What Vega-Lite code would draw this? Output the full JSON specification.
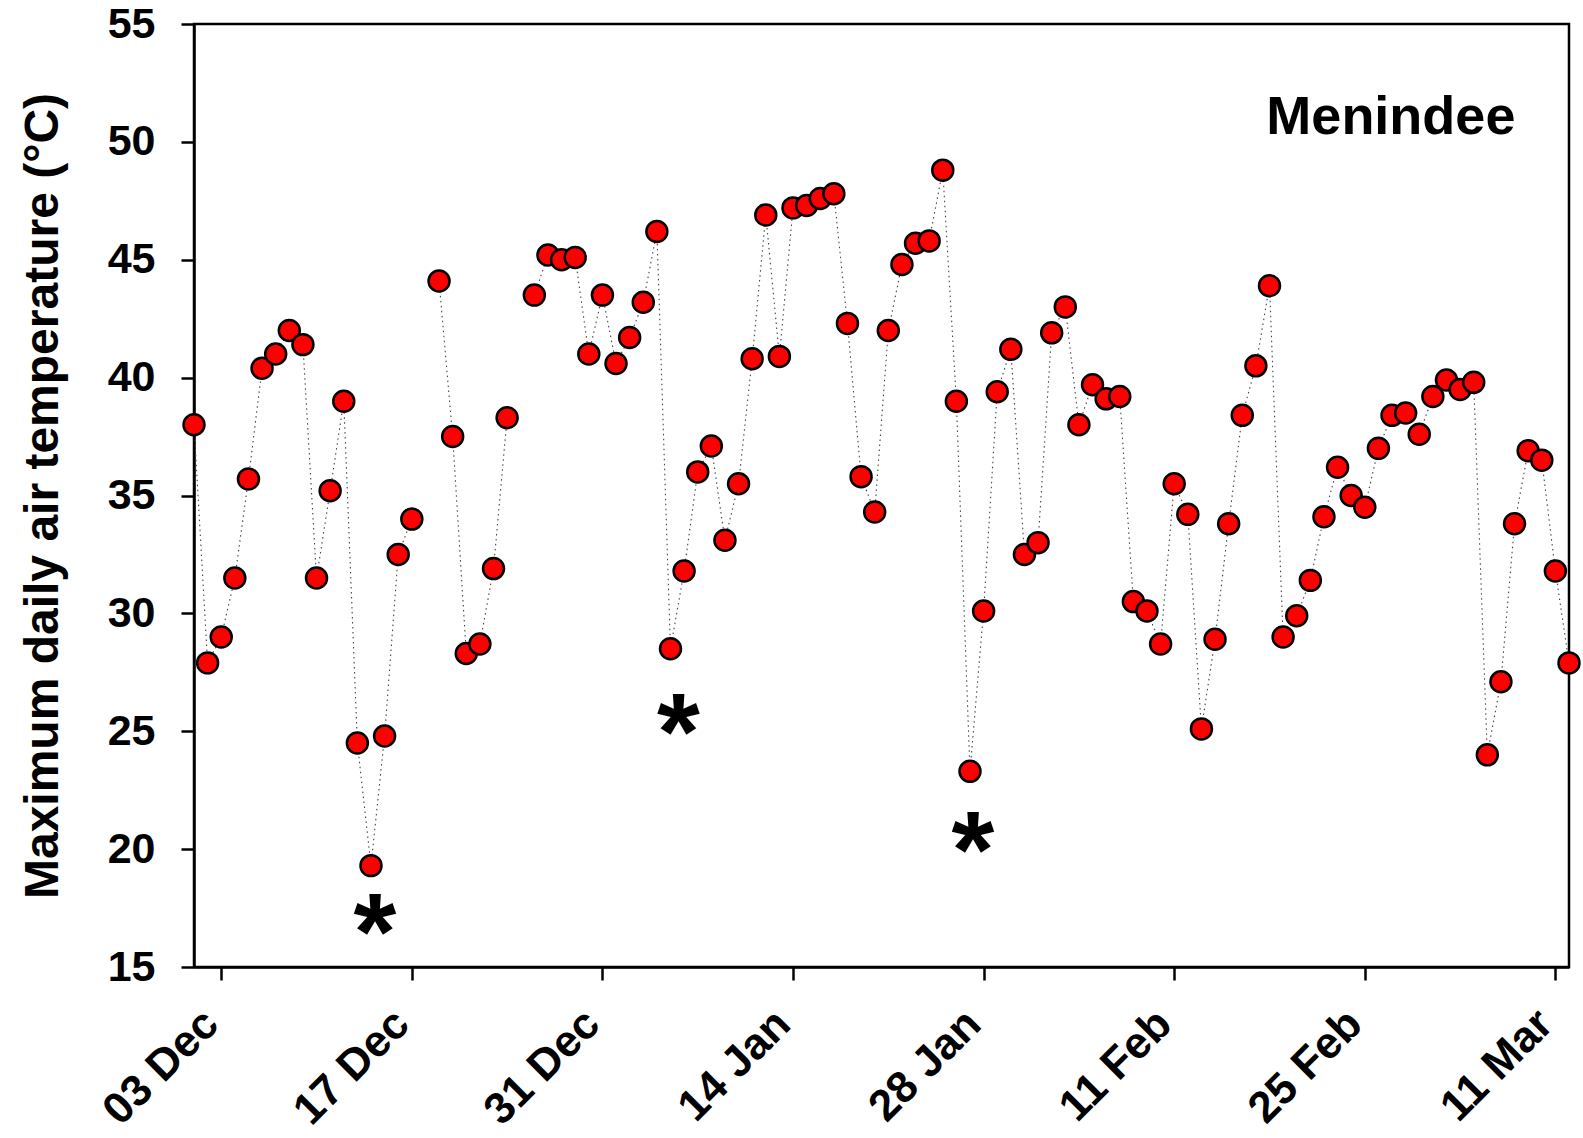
{
  "$schema": "https://vega.github.io/schema/vega-lite/v6.json",
  "autosize": {"type": "none"},
  "width": 1375,
  "height": 943,
  "padding": {"left": 194, "top": 24, "right": 14, "bottom": 171},
  "background": "white",
  "config": {
    "view": {"stroke": "black", "strokeWidth": 2.5},
    "font": "Liberation Sans",
    "axis": {"grid": false, "domainColor": "black", "domainWidth": 2.5, "tickColor": "black", "tickWidth": 2.5, "tickSize": 13, "labelFont": "Liberation Sans", "labelFontWeight": "bold", "labelFontSize": 43, "labelColor": "black", "titleColor": "black"}
  },
  "datasets": {
    "temps": [
      {"date": "2018-12-01T00:00:00", "temp": 38.0},
      {"date": "2018-12-02T00:00:00", "temp": 27.9},
      {"date": "2018-12-03T00:00:00", "temp": 29.0},
      {"date": "2018-12-04T00:00:00", "temp": 31.5},
      {"date": "2018-12-05T00:00:00", "temp": 35.7},
      {"date": "2018-12-06T00:00:00", "temp": 40.4},
      {"date": "2018-12-07T00:00:00", "temp": 41.0},
      {"date": "2018-12-08T00:00:00", "temp": 42.0},
      {"date": "2018-12-09T00:00:00", "temp": 41.4},
      {"date": "2018-12-10T00:00:00", "temp": 31.5},
      {"date": "2018-12-11T00:00:00", "temp": 35.2},
      {"date": "2018-12-12T00:00:00", "temp": 39.0},
      {"date": "2018-12-13T00:00:00", "temp": 24.5},
      {"date": "2018-12-14T00:00:00", "temp": 19.3},
      {"date": "2018-12-15T00:00:00", "temp": 24.8},
      {"date": "2018-12-16T00:00:00", "temp": 32.5},
      {"date": "2018-12-17T00:00:00", "temp": 34.0},
      {"date": "2018-12-18T00:00:00", "temp": null},
      {"date": "2018-12-19T00:00:00", "temp": 44.1},
      {"date": "2018-12-20T00:00:00", "temp": 37.5},
      {"date": "2018-12-21T00:00:00", "temp": 28.3},
      {"date": "2018-12-22T00:00:00", "temp": 28.7},
      {"date": "2018-12-23T00:00:00", "temp": 31.9},
      {"date": "2018-12-24T00:00:00", "temp": 38.3},
      {"date": "2018-12-25T00:00:00", "temp": null},
      {"date": "2018-12-26T00:00:00", "temp": 43.5},
      {"date": "2018-12-27T00:00:00", "temp": 45.2},
      {"date": "2018-12-28T00:00:00", "temp": 45.0},
      {"date": "2018-12-29T00:00:00", "temp": 45.1},
      {"date": "2018-12-30T00:00:00", "temp": 41.0},
      {"date": "2018-12-31T00:00:00", "temp": 43.5},
      {"date": "2019-01-01T00:00:00", "temp": 40.6},
      {"date": "2019-01-02T00:00:00", "temp": 41.7},
      {"date": "2019-01-03T00:00:00", "temp": 43.2},
      {"date": "2019-01-04T00:00:00", "temp": 46.2},
      {"date": "2019-01-05T00:00:00", "temp": 28.5},
      {"date": "2019-01-06T00:00:00", "temp": 31.8},
      {"date": "2019-01-07T00:00:00", "temp": 36.0},
      {"date": "2019-01-08T00:00:00", "temp": 37.1},
      {"date": "2019-01-09T00:00:00", "temp": 33.1},
      {"date": "2019-01-10T00:00:00", "temp": 35.5},
      {"date": "2019-01-11T00:00:00", "temp": 40.8},
      {"date": "2019-01-12T00:00:00", "temp": 46.9},
      {"date": "2019-01-13T00:00:00", "temp": 40.9},
      {"date": "2019-01-14T00:00:00", "temp": 47.2},
      {"date": "2019-01-15T00:00:00", "temp": 47.3},
      {"date": "2019-01-16T00:00:00", "temp": 47.6},
      {"date": "2019-01-17T00:00:00", "temp": 47.8},
      {"date": "2019-01-18T00:00:00", "temp": 42.3},
      {"date": "2019-01-19T00:00:00", "temp": 35.8},
      {"date": "2019-01-20T00:00:00", "temp": 34.3},
      {"date": "2019-01-21T00:00:00", "temp": 42.0},
      {"date": "2019-01-22T00:00:00", "temp": 44.8},
      {"date": "2019-01-23T00:00:00", "temp": 45.7},
      {"date": "2019-01-24T00:00:00", "temp": 45.8},
      {"date": "2019-01-25T00:00:00", "temp": 48.8},
      {"date": "2019-01-26T00:00:00", "temp": 39.0},
      {"date": "2019-01-27T00:00:00", "temp": 23.3},
      {"date": "2019-01-28T00:00:00", "temp": 30.1},
      {"date": "2019-01-29T00:00:00", "temp": 39.4},
      {"date": "2019-01-30T00:00:00", "temp": 41.2},
      {"date": "2019-01-31T00:00:00", "temp": 32.5},
      {"date": "2019-02-01T00:00:00", "temp": 33.0},
      {"date": "2019-02-02T00:00:00", "temp": 41.9},
      {"date": "2019-02-03T00:00:00", "temp": 43.0},
      {"date": "2019-02-04T00:00:00", "temp": 38.0},
      {"date": "2019-02-05T00:00:00", "temp": 39.7},
      {"date": "2019-02-06T00:00:00", "temp": 39.1},
      {"date": "2019-02-07T00:00:00", "temp": 39.2},
      {"date": "2019-02-08T00:00:00", "temp": 30.5},
      {"date": "2019-02-09T00:00:00", "temp": 30.1},
      {"date": "2019-02-10T00:00:00", "temp": 28.7},
      {"date": "2019-02-11T00:00:00", "temp": 35.5},
      {"date": "2019-02-12T00:00:00", "temp": 34.2},
      {"date": "2019-02-13T00:00:00", "temp": 25.1},
      {"date": "2019-02-14T00:00:00", "temp": 28.9},
      {"date": "2019-02-15T00:00:00", "temp": 33.8},
      {"date": "2019-02-16T00:00:00", "temp": 38.4},
      {"date": "2019-02-17T00:00:00", "temp": 40.5},
      {"date": "2019-02-18T00:00:00", "temp": 43.9},
      {"date": "2019-02-19T00:00:00", "temp": 29.0},
      {"date": "2019-02-20T00:00:00", "temp": 29.9},
      {"date": "2019-02-21T00:00:00", "temp": 31.4},
      {"date": "2019-02-22T00:00:00", "temp": 34.1},
      {"date": "2019-02-23T00:00:00", "temp": 36.2},
      {"date": "2019-02-24T00:00:00", "temp": 35.0},
      {"date": "2019-02-25T00:00:00", "temp": 34.5},
      {"date": "2019-02-26T00:00:00", "temp": 37.0},
      {"date": "2019-02-27T00:00:00", "temp": 38.4},
      {"date": "2019-02-28T00:00:00", "temp": 38.5},
      {"date": "2019-03-01T00:00:00", "temp": 37.6},
      {"date": "2019-03-02T00:00:00", "temp": 39.2},
      {"date": "2019-03-03T00:00:00", "temp": 39.9},
      {"date": "2019-03-04T00:00:00", "temp": 39.5},
      {"date": "2019-03-05T00:00:00", "temp": 39.8},
      {"date": "2019-03-06T00:00:00", "temp": 24.0},
      {"date": "2019-03-07T00:00:00", "temp": 27.1},
      {"date": "2019-03-08T00:00:00", "temp": 33.8},
      {"date": "2019-03-09T00:00:00", "temp": 36.9},
      {"date": "2019-03-10T00:00:00", "temp": 36.5},
      {"date": "2019-03-11T00:00:00", "temp": 31.8},
      {"date": "2019-03-12T00:00:00", "temp": 27.9}
    ],
    "stars": [
      {"date": "2018-12-14T07:00:00", "temp": 17.4, "label": "*"},
      {"date": "2019-01-05T14:00:00", "temp": 25.9, "label": "*"},
      {"date": "2019-01-27T05:00:00", "temp": 20.9, "label": "*"}
    ],
    "site": [
      {"date": "2019-02-26T22:00:00", "temp": 51.0, "label": "Menindee"}
    ]
  },
  "encoding": {
    "x": {
      "field": "date", "type": "temporal",
      "scale": {"domain": [{"year": 2018, "month": 12, "date": 1}, {"year": 2019, "month": 3, "date": 12}]},
      "axis": {
        "title": null,
        "values": [
          {"year": 2018, "month": 12, "date": 3},
          {"year": 2018, "month": 12, "date": 17},
          {"year": 2018, "month": 12, "date": 31},
          {"year": 2019, "month": 1, "date": 14},
          {"year": 2019, "month": 1, "date": 28},
          {"year": 2019, "month": 2, "date": 11},
          {"year": 2019, "month": 2, "date": 25},
          {"year": 2019, "month": 3, "date": 11}
        ],
        "format": "%d %b",
        "labelAngle": -45,
        "labelAlign": "right",
        "labelBaseline": "middle",
        "labelFontSize": 44,
        "labelPadding": 37,
        "labelOffset": -10,
        "labelOverlap": false,
        "labelFlush": false
      }
    },
    "y": {
      "field": "temp", "type": "quantitative",
      "scale": {"domain": [15, 55], "nice": false, "zero": false},
      "axis": {
        "title": "Maximum daily air temperature (°C)",
        "titleFont": "Liberation Sans",
        "titleFontSize": 48,
        "titleFontWeight": "bold",
        "titlePadding": 40,
        "values": [15, 20, 25, 30, 35, 40, 45, 50, 55],
        "labelPadding": 26,
        "labelFlush": false
      }
    }
  },
  "layer": [
    {
      "data": {"name": "temps"},
      "mark": {"type": "line", "color": "#444444", "strokeWidth": 1.1, "strokeDash": [1.5, 3.5], "clip": false, "invalid": "break-paths-show-domains"}
    },
    {
      "data": {"name": "temps"},
      "mark": {"type": "point", "shape": "circle", "filled": true, "fill": "#ff0000", "stroke": "black", "strokeWidth": 2.5, "size": 440, "opacity": 1, "clip": false}
    },
    {
      "data": {"name": "stars"},
      "mark": {"type": "text", "font": "Liberation Sans", "fontWeight": "bold", "fontSize": 110, "align": "center", "baseline": "middle", "dy": 26, "color": "black"},
      "encoding": {"text": {"field": "label"}}
    },
    {
      "data": {"name": "site"},
      "mark": {"type": "text", "font": "Liberation Sans", "fontWeight": "bold", "fontSize": 54, "align": "center", "baseline": "middle", "color": "black"},
      "encoding": {"text": {"field": "label"}}
    }
  ]
}
